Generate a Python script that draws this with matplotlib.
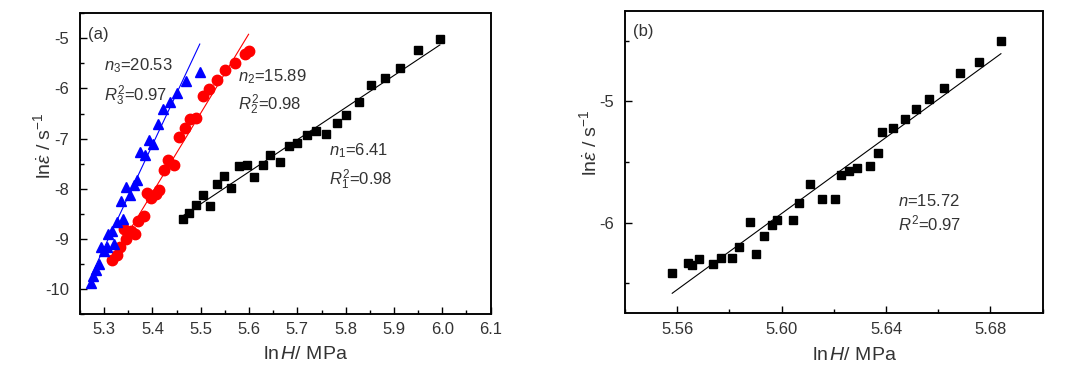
import numpy as np
import matplotlib
matplotlib.use("Agg")
import matplotlib.pyplot as plt
from matplotlib.ticker import MultipleLocator, FormatStrFormatter
from matplotlib.patches import Rectangle

plt.rcParams['font.family'] = ['Liberation Sans', 'DejaVu Sans']
plt.rcParams['mathtext.fontset'] = 'custom'
plt.rcParams['mathtext.rm'] = 'Liberation Sans'
plt.rcParams['mathtext.it'] = 'Liberation Sans:italic'
plt.rcParams['mathtext.bf'] = 'Liberation Sans:bold'
plt.rcParams['axes.spines.top'] = True
plt.rcParams['axes.spines.right'] = True

# ---- panel (a) data: lnH vs ln(strain rate) ----
x1 = [5.4625, 5.476, 5.491, 5.505, 5.520, 5.534, 5.549, 5.563, 5.580, 5.595,
      5.611, 5.628, 5.644, 5.663, 5.682, 5.699, 5.719, 5.738, 5.759, 5.781,
      5.801, 5.827, 5.853, 5.881, 5.912, 5.949, 5.995]
y1 = [-8.61, -8.49, -8.33, -8.13, -8.35, -7.91, -7.75, -7.99, -7.55, -7.52,
      -7.77, -7.53, -7.33, -7.47, -7.15, -7.08, -6.93, -6.85, -6.91, -6.69,
      -6.53, -6.26, -5.93, -5.79, -5.60, -5.23, -5.01]

x2 = [5.317, 5.326, 5.3325, 5.341, 5.346, 5.355, 5.364, 5.371, 5.382, 5.389,
      5.396, 5.407, 5.414, 5.424, 5.433, 5.445, 5.455, 5.467, 5.478, 5.490,
      5.505, 5.518, 5.533, 5.551, 5.570, 5.592, 5.599]
y2 = [-9.42, -9.32, -9.17, -8.80, -9.01, -8.84, -8.91, -8.64, -8.55, -8.09,
      -8.19, -8.11, -8.03, -7.62, -7.42, -7.53, -6.96, -6.78, -6.60, -6.58,
      -6.16, -6.02, -5.83, -5.63, -5.50, -5.31, -5.26]

x3 = [5.2737, 5.277, 5.283, 5.289, 5.2945, 5.299, 5.305, 5.309, 5.316, 5.321,
      5.327, 5.339, 5.334, 5.346, 5.353, 5.362, 5.368, 5.374, 5.384, 5.392,
      5.402, 5.412, 5.422, 5.436, 5.451, 5.469, 5.498]
y3 = [-9.89, -9.74, -9.62, -9.50, -9.17, -9.25, -9.16, -8.91, -8.85, -9.10,
      -8.67, -8.60, -8.24, -7.97, -8.13, -7.93, -7.83, -7.26, -7.32, -7.03,
      -7.11, -6.71, -6.41, -6.26, -6.10, -5.85, -5.68]

n_a = [6.41, 15.89, 20.53]
r2_a = [0.98, 0.98, 0.97]

# ---- panel (b) data ----
xb = [5.5581, 5.5643, 5.5658, 5.5685, 5.5738, 5.5768, 5.5810, 5.5838, 5.5880,
      5.5903, 5.5934, 5.5964, 5.5984, 5.6045, 5.6067, 5.6110, 5.6156, 5.6206,
      5.6229, 5.6259, 5.6290, 5.6340, 5.6370, 5.6386, 5.6425, 5.6474, 5.6516,
      5.6566, 5.6623, 5.6685, 5.6757, 5.6840]
yb = [-6.416, -6.334, -6.353, -6.301, -6.342, -6.293, -6.293, -6.200, -5.997,
      -6.260, -6.112, -6.022, -5.981, -5.981, -5.841, -5.685, -5.805, -5.805,
      -5.611, -5.578, -5.548, -5.529, -5.422, -5.249, -5.216, -5.145, -5.060,
      -4.981, -4.888, -4.764, -4.674, -4.501]
n_b = 15.72
r2_b = 0.97


def fit_line(ax, x, y, n, color):
    # straight line with the reported slope n, through the data centroid
    x = np.asarray(x)
    y = np.asarray(y)
    b = y.mean() - n * x.mean()
    xx = np.array([x.min(), x.max()])
    ax.plot(xx, n * xx + b, color=color, lw=0.8, zorder=2)


def style_axes(ax):
    for s in ax.spines.values():
        s.set_visible(True)
        s.set_linewidth(1.1)
        s.set_color('black')
    # full frame box
    ax.add_patch(Rectangle((0, 0), 1, 1, transform=ax.transAxes, fill=False,
                           edgecolor='black', lw=1.1, clip_on=False, zorder=5))
    ax.tick_params(which='both', direction='in', top=False, right=False,
                   labelsize=12, width=1.0, labelcolor='#333333')
    ax.tick_params(which='major', length=5, pad=6)
    ax.tick_params(which='minor', length=3)
    ax.tick_params(axis='y', which='major', pad=8)


fig = plt.figure(figsize=(10.85, 3.80), dpi=100)
ax1 = fig.add_axes([0.0737, 0.1737, 0.3785, 0.7913])
ax2 = fig.add_axes([0.576, 0.1755, 0.385, 0.7963])
tc = '#333333'

# panel (a)
ax1.plot(x1, y1, 's', color='black', ms=6, zorder=3)
ax1.plot(x2, y2, 'o', color='red', ms=7.5, zorder=3)
ax1.plot(x3, y3, '^', color='blue', ms=7.5, zorder=3)
fit_line(ax1, x1, y1, n_a[0], 'black')
fit_line(ax1, x2, y2, n_a[1], 'red')
fit_line(ax1, x3, y3, n_a[2], 'blue')
ax1.set_xlim(5.25, 6.1)
ax1.set_ylim(-10.5, -4.5)
ax1.xaxis.set_major_locator(MultipleLocator(0.1))
ax1.xaxis.set_minor_locator(MultipleLocator(0.05))
ax1.yaxis.set_major_locator(MultipleLocator(1))
ax1.yaxis.set_minor_locator(MultipleLocator(0.5))
ax1.xaxis.set_major_formatter(FormatStrFormatter('%.1f'))
ax1.yaxis.set_major_formatter(FormatStrFormatter('%d'))
style_axes(ax1)

ax1.text(0.02, 0.955, '(a)', transform=ax1.transAxes, fontsize=12, color=tc, va='top')
ax1.text(5.3, -5.55, r'$\mathit{n}_3$=%.2f' % n_a[2], fontsize=12, color=tc, va='center')
ax1.text(5.3, -6.15, r'$\mathit{R}^2_3$=%.2f' % r2_a[2], fontsize=12, color=tc, va='center')
ax1.text(5.577, -5.77, r'$\mathit{n}_2$=%.2f' % n_a[1], fontsize=12, color=tc, va='center')
ax1.text(5.577, -6.33, r'$\mathit{R}^2_2$=%.2f' % r2_a[1], fontsize=12, color=tc, va='center')
ax1.text(5.766, -7.25, r'$\mathit{n}_1$=%.2f' % n_a[0], fontsize=12, color=tc, va='center')
ax1.text(5.766, -7.83, r'$\mathit{R}^2_1$=%.2f' % r2_a[0], fontsize=12, color=tc, va='center')

ax1.set_xlabel(r'ln$\,\mathit{H}$/ MPa', fontsize=14, color=tc)
ax1.set_ylabel(r'ln$\dot{\varepsilon}$ / s$^{-1}$', fontsize=14, color=tc)
ax1.xaxis.set_label_coords(0.55, -0.135)
ax1.xaxis.label.set_va('center')
ax1.yaxis.set_label_coords(-0.09, 0.56)
ax1.yaxis.label.set_va('center')

# panel (b)
ax2.plot(xb, yb, 's', color='black', ms=6, zorder=3)
fit_line(ax2, xb, yb, n_b, 'black')
ax2.set_xlim(5.54, 5.70)
ax2.set_ylim(-6.75, -4.25)
ax2.xaxis.set_major_locator(MultipleLocator(0.04))
ax2.xaxis.set_minor_locator(MultipleLocator(0.02))
ax2.yaxis.set_major_locator(MultipleLocator(1))
ax2.yaxis.set_minor_locator(MultipleLocator(0.5))
ax2.xaxis.set_major_formatter(FormatStrFormatter('%.2f'))
ax2.yaxis.set_major_formatter(FormatStrFormatter('%d'))
style_axes(ax2)
ax2.text(0.02, 0.955, '(b)', transform=ax2.transAxes, fontsize=12, color=tc, va='top')
ax2.text(5.6445, -5.82, r'$\mathit{n}$=%.2f' % n_b, fontsize=12, color=tc, va='center')
ax2.text(5.6445, -6.01, r'$\mathit{R}^2$=%.2f' % r2_b, fontsize=12, color=tc, va='center')
ax2.set_xlabel(r'ln$\,\mathit{H}$/ MPa', fontsize=14, color=tc)
ax2.set_ylabel(r'ln$\dot{\varepsilon}$ / s$^{-1}$', fontsize=14, color=tc)
ax2.xaxis.set_label_coords(0.55, -0.14)
ax2.xaxis.label.set_va('center')
ax2.yaxis.set_label_coords(-0.085, 0.565)
ax2.yaxis.label.set_va('center')

fig.savefig('out.png', dpi=100)
